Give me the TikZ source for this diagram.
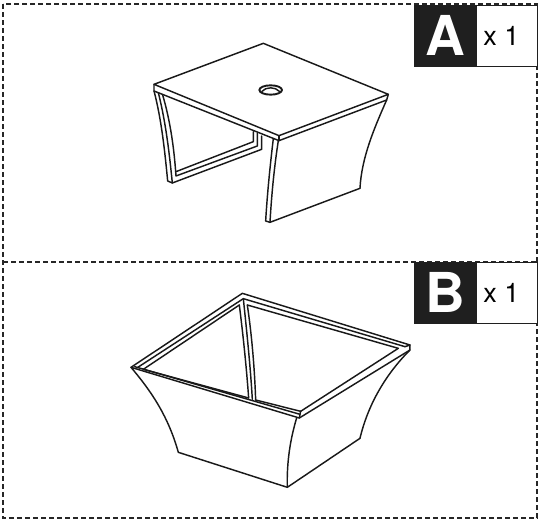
\documentclass[tikz,border=0pt]{standalone}
\usepackage{fontspec}
\setmainfont{TeX Gyre Heros}
\tikzset{
  frameline/.style={line width=1.1pt,dash pattern=on 5pt off 3pt,black!85},
  ink/.style={line width=1.45pt,line join=round,line cap=round,black!90},
  zoomA/.style={shift={(130,30)},x=0.3333pt,y=-0.3333pt},
  zoomB/.style={shift={(110,280)},x=0.3333pt,y=-0.3333pt},
  letterbox/.style={fill=black!88,draw=black!88,text=white,minimum width=62pt,minimum height=61pt,inner sep=0pt,font=\fontsize{55}{55}\selectfont\bfseries},
  countbox/.style={fill=white,draw=black!88,line width=0.9pt,minimum width=61pt,minimum height=61pt,inner sep=0pt,font=\fontsize{27}{27}\selectfont},
}
\begin{document}
\begin{tikzpicture}[x=1pt,y=-1pt]
\useasboundingbox (0,0) rectangle (541,522);
\fill[white] (0,0) rectangle (541,522);
% frames
\draw[frameline] (3,4) rectangle (537,518);
\draw[frameline] (3,262) -- (537,262);
% labels
\node[letterbox,anchor=north west] (la) at (414,5) {A};
\node[countbox,anchor=north west] (ca) at (476,5) {x 1\kern11pt};
\node[letterbox,anchor=north west] (lb) at (414,262) {B};
\node[countbox,anchor=north west] (cb) at (476,262) {x 1\kern11pt};
% table A
\begin{scope}[zoomA]
\draw[ink] (72,163) -- (400,40) -- (775,193) -- (447,317) -- cycle;
\draw[ink] (72,163) -- (72,183) -- (447,332) -- (770,210) -- (775,193);
\draw[ink] (447,317) -- (447,332);
% left leg
\draw[ink] (72,183) .. controls (95,270) and (105,370) .. (113,453) -- (127,459) -- (395,358) -- (395,318);
\draw[ink] (85,188) .. controls (108,280) and (118,370) .. (127,459);
\draw[ink] (98,195) .. controls (120,270) and (132,350) .. (138,438) -- (382,348) -- (382,310);
\draw[ink] (138,425) -- (370,335) -- (370,305);
% right panel
\draw[ink] (430,326) .. controls (420,410) and (412,490) .. (407,573) -- (420,577) -- (690,475);
\draw[ink] (445,332) .. controls (433,410) and (425,490) .. (420,577);
\draw[ink] (690,475) .. controls (695,380) and (735,290) .. (770,210);
% hole
\draw[ink,line width=1.9pt] (422,180) ellipse [x radius=34,y radius=14];
\draw[ink] (396,184) .. controls (408,170) and (436,170) .. (448,184);
\end{scope}
% basket B
\begin{scope}[zoomB]
% rim
\draw[ink] (63,262) -- (397,40) -- (900,195) -- (900,210) -- (568,414) -- cycle;
\draw[ink] (82,263) -- (400,56) -- (885,200);
\draw[ink] (74,260) -- (570,403);
\draw[ink] (100,268) -- (388,75);
\draw[ink] (412,75) -- (865,205) -- (572,394);
\draw[ink] (100,268) -- (416,354);
\draw[ink] (437,360) -- (572,394);
\draw[ink] (885,200) -- (900,195);
\draw[ink] (572,394) -- (570,403) -- (568,414);
% post
\draw[ink] (388,75) .. controls (400,170) and (410,270) .. (416,354);
\draw[ink] (400,56) .. controls (412,170) and (422,270) .. (427,358);
\draw[ink] (412,75) .. controls (426,170) and (434,270) .. (437,360);
% panels
\draw[ink] (63,262) .. controls (125,335) and (175,410) .. (205,517) -- (532,622) -- (750,475);
\draw[ink] (750,475) .. controls (775,370) and (830,280) .. (900,210);
\draw[ink] (560,414) .. controls (540,480) and (530,550) .. (532,622);
\end{scope}
\end{tikzpicture}
\end{document}
